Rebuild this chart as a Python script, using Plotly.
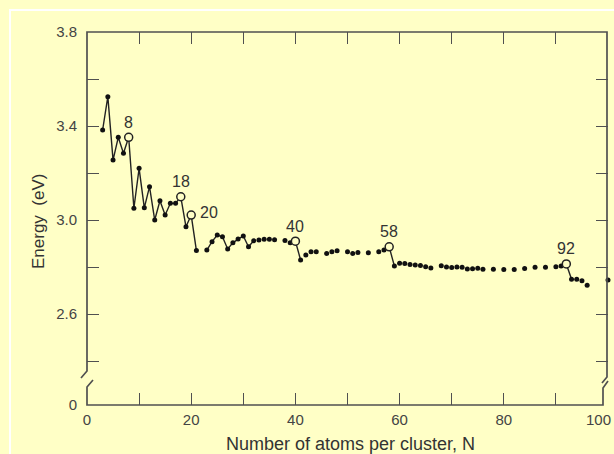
import plotly.graph_objects as go

# ---- data ----
cluster_size = [3, 4, 5, 6, 7, 8, 9, 10, 11, 12, 13, 14, 15, 16, 17, 18, 19, 20, 21,
                23, 24, 25, 26, 27, 28, 29, 30, 31, 32, 33, 34, 35, 36, 38, 39, 40,
                41, 42, 43, 44, 46, 47, 48, 50, 51, 52, 54, 56, 57, 58, 59, 60, 61,
                62, 63, 64, 65, 66, 68, 69, 70, 71, 72, 73, 74, 75, 76, 78, 80, 82,
                84, 86, 88, 90, 91, 92, 93, 94, 95, 96, 100]
energy_ev = [3.383, 3.525, 3.255, 3.352, 3.284, 3.352, 3.050, 3.220, 3.052, 3.142,
             3.000, 3.082, 3.021, 3.071, 3.071, 3.099, 2.971, 3.021, 2.870,
             2.872, 2.908, 2.936, 2.929, 2.877, 2.903, 2.919, 2.932, 2.886, 2.912,
             2.915, 2.918, 2.918, 2.916, 2.913, 2.903, 2.910,
             2.830, 2.851, 2.865, 2.865, 2.858, 2.865, 2.869, 2.865, 2.858, 2.862,
             2.861, 2.865, 2.872, 2.886, 2.804, 2.816, 2.815,
             2.811, 2.809, 2.806, 2.801, 2.796, 2.805, 2.800, 2.798, 2.800, 2.799,
             2.792, 2.793, 2.795, 2.791, 2.791, 2.790, 2.790,
             2.794, 2.799, 2.799, 2.801, 2.804, 2.813, 2.748, 2.748, 2.742, 2.723,
             2.745]
magic_numbers = [8, 18, 20, 40, 58, 92]
connected_runs = [(3, 21), (23, 32), (40, 41), (58, 59), (92, 93)]
x_tick_vals = [0, 20, 40, 60, 80]
x_last_label = "100"
y_axis_bottom = 2.213          # position of the broken-axis "0"
y_tick_vals = [y_axis_bottom, 2.4, 2.6, 2.8, 3.0, 3.2, 3.4, 3.6, 3.8]
y_tick_text = ["0", "", "2.6", "", "3.0", "", "3.4", "", "3.8"]

BG = "#FFFFC6"
INK = "#222222"
AX = "#505050"
FONT = "Liberation Sans, Arial, sans-serif"

W, H = 614, 454
L, R, T, B = 87, 6, 32, 49
PW, PH = W - L - R, H - T - B


def px(xp):
    return (xp - L) / PW


def py(yp):
    return (H - B - yp) / PH


lookup = dict(zip(cluster_size, energy_ev))

fig = go.Figure()

# connected segments
lx, ly = [], []
for a, b in connected_runs:
    for n in cluster_size:
        if a <= n <= b:
            lx.append(n)
            ly.append(lookup[n])
    lx.append(None)
    ly.append(None)
fig.add_trace(go.Scatter(x=lx, y=ly, mode="lines",
                         line=dict(color=INK, width=1.4),
                         hoverinfo="skip", showlegend=False, cliponaxis=False))

# filled dots
fx = [n for n in cluster_size if n not in magic_numbers]
fy = [lookup[n] for n in fx]
fig.add_trace(go.Scatter(x=fx, y=fy, mode="markers",
                         marker=dict(color="#111111", size=5),
                         showlegend=False, cliponaxis=False))

# open circles at magic numbers
mx = magic_numbers
my = [lookup[n] for n in mx]
fig.add_trace(go.Scatter(x=mx, y=my, mode="markers",
                         marker=dict(color=BG, size=8,
                                     line=dict(color=INK, width=1.5)),
                         showlegend=False, cliponaxis=False))

annotations = []
for n in magic_numbers:
    xs, ys = 0, 15
    if n == 20:
        xs, ys = 18, 3
    annotations.append(dict(x=n, y=lookup[n], text=str(n), showarrow=False,
                            xshift=xs, yshift=ys,
                            font=dict(family=FONT, size=16, color="#333333")))

# last x tick label, kept inside the page edge
annotations.append(dict(xref="paper", yref="paper", x=px(613), y=py(419),
                        xanchor="right", yanchor="middle", text=x_last_label,
                        showarrow=False,
                        font=dict(family=FONT, size=15, color="#444444")))
annotations.append(dict(xref="paper", yref="paper", x=px(350), y=py(444),
                        xanchor="center", yanchor="middle",
                        text="Number of atoms per cluster, N", showarrow=False,
                        font=dict(family=FONT, size=18, color="#333333")))
annotations.append(dict(xref="paper", yref="paper", x=px(38), y=py(222),
                        xanchor="center", yanchor="middle",
                        text="Energy\u00a0 (eV)", textangle=-90, showarrow=False,
                        font=dict(family=FONT, size=17, color="#333333")))

shapes = []


def seg(pts, color=AX, width=1.7):
    path = "M " + " L ".join(f"{px(a):.5f},{py(b):.5f}" for a, b in pts)
    shapes.append(dict(type="path", xref="paper", yref="paper", path=path,
                       line=dict(color=color, width=width)))


# frame with axis breaks
seg([(81, 378), (87, 371), (87, 32), (607, 32), (607, 377), (602, 383)])
seg([(93, 380), (87, 387), (87, 405), (603, 405), (603, 388), (608, 381)])
# outer white rule
seg([(10, 460), (10, 10), (620, 10)], color="white", width=2)

fig.update_layout(
    width=W, height=H,
    margin=dict(l=L, r=R, t=T, b=B, autoexpand=False),
    paper_bgcolor=BG, plot_bgcolor=BG,
    shapes=shapes, annotations=annotations,
    font=dict(family=FONT, color="#444444"),
)
fig.update_xaxes(range=[0, 100], showgrid=False, zeroline=False, showline=False,
                 automargin=False,
                 ticks="inside", ticklen=12, tickwidth=1.4, tickcolor=AX,
                 mirror="ticks",
                 tickvals=list(range(0, 101, 10)),
                 ticktext=[str(v) if v in x_tick_vals else "" for v in range(0, 101, 10)],
                 ticklabelstandoff=4, ticklabeloverflow="allow",
                 tickfont=dict(family=FONT, size=15, color="#444444"))
fig.update_yaxes(range=[y_axis_bottom, 3.8], showgrid=False, zeroline=False,
                 automargin=False,
                 showline=False, ticks="inside", ticklen=12, tickwidth=1.4,
                 tickcolor=AX, mirror="ticks",
                 tickvals=y_tick_vals, ticktext=y_tick_text,
                 ticklabelstandoff=9,
                 tickfont=dict(family=FONT, size=15, color="#444444"))

fig.write_html(
    "out.html",
    config={"displayModeBar": False},
    post_script="document.body.style.margin='0';document.body.style.background='%s';" % BG,
)
